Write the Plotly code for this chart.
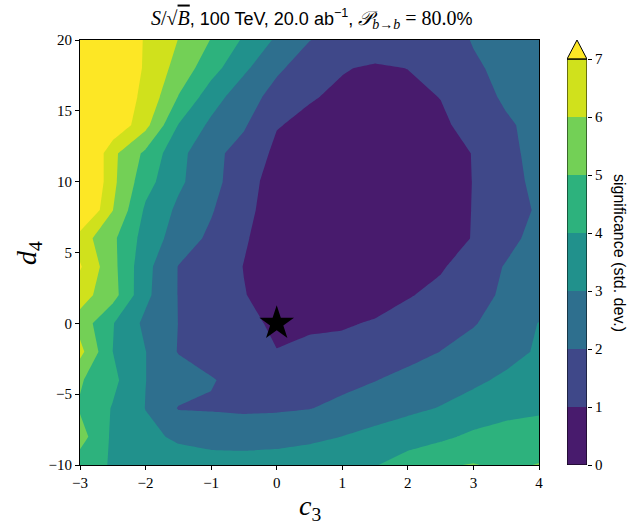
import plotly.graph_objects as go

# ---- data ----
c3_values = [-3.0, -2.5, -2.0, -1.5, -1.0, -0.5, 0.0, 0.5, 1.0, 1.5, 2.0, 2.5, 3.0, 3.5, 4.0]
d4_values = [-10, -8, -6, -4, -2, 0, 2, 4, 6, 8, 10, 12, 14, 16, 18, 20]

sig_m10 = [4.5, 3.9, 3.6, 3.45, 3.4, 3.4, 3.45, 3.55, 3.7, 3.95, 4.4, 4.9, 5.05, 4.8, 5.05]
sig_m8 = [5.4, 3.82, 3.23, 2.85, 2.65, 2.6, 2.65, 2.8, 3.01, 3.31, 3.6, 3.8, 4.2, 4.45, 4.3]
sig_m6 = [4.9, 3.93, 2.98, 1.95, 1.92, 1.85, 1.88, 1.97, 2.22, 2.5, 2.78, 3.05, 3.35, 3.65, 3.9]
sig_m4 = [5.1, 4.24, 3.01, 2.52, 2.05, 1.75, 1.6, 1.6, 1.75, 1.97, 2.26, 2.55, 2.84, 3.15, 3.4]
sig_m2 = [6.3, 4.0, 3.02, 1.95, 1.7, 1.4, 1.02, 1.3, 1.3, 1.5, 1.7, 2.01, 2.37, 2.72, 3.1]
sig_0 = [5.6, 4.05, 2.77, 1.99, 1.61, 1.23, 0.85, 0.8, 0.9, 1.08, 1.39, 1.66, 1.93, 2.45, 3.03]
sig_2 = [6.4, 5.4, 3.23, 1.97, 1.54, 1.03, 0.7, 0.55, 0.5, 0.6, 0.93, 1.25, 1.7, 2.15, 2.5]
sig_4 = [7.1, 5.29, 3.3, 1.97, 1.48, 0.98, 0.6, 0.4, 0.3, 0.3, 0.45, 0.9, 1.48, 2.07, 2.5]
sig_6 = [6.5, 5.2, 3.6, 2.54, 1.8, 1.08, 0.6, 0.35, 0.25, 0.2, 0.25, 0.55, 1.05, 1.7, 2.35]
sig_8 = [8.5, 6.02, 3.84, 2.81, 2.09, 1.17, 0.7, 0.4, 0.3, 0.25, 0.3, 0.6, 1.03, 1.58, 2.12]
sig_10 = [9.0, 6.23, 4.38, 3.18, 2.34, 1.38, 0.6, 0.45, 0.3, 0.25, 0.3, 0.6, 1.02, 1.66, 2.25]
sig_12 = [9.0, 6.23, 4.79, 3.3, 2.27, 1.63, 0.8, 0.55, 0.4, 0.35, 0.4, 0.65, 1.03, 1.76, 2.3]
sig_14 = [8.5, 7.9, 6.3, 3.97, 2.79, 2.11, 1.05, 0.8, 0.6, 0.5, 0.55, 0.85, 1.3, 1.87, 2.3]
sig_16 = [8.3, 7.6, 6.8, 4.97, 3.47, 2.4, 1.69, 1.07, 0.85, 0.75, 0.8, 1.02, 1.6, 2.15, 2.4]
sig_18 = [8.5, 7.8, 6.9, 5.63, 4.39, 3.19, 2.14, 1.58, 1.05, 0.9, 1.01, 1.45, 1.89, 2.2, 2.4]
sig_20 = [8.6, 7.85, 6.92, 5.98, 4.96, 3.87, 2.85, 2.02, 1.7, 1.5, 1.45, 1.6, 2.05, 2.3, 2.5]

significance = [sig_m10, sig_m8, sig_m6, sig_m4, sig_m2, sig_0, sig_2, sig_4,
                sig_6, sig_8, sig_10, sig_12, sig_14, sig_16, sig_18, sig_20]

levels = [0, 1, 2, 3, 4, 5, 6, 7]
band_colors = ["#481b6d", "#3f4889", "#2e6f8e", "#21918c", "#2db27d", "#73d056", "#d0e11c"]
over_color = "#fde725"

benchmark_c3 = [0.0]
benchmark_d4 = [0.0]

x_ticks = [-3, -2, -1, 0, 1, 2, 3, 4]
y_ticks = [-10, -5, 0, 5, 10, 15, 20]

# ---- geometry ----
W, H = 629, 524
ML, MR, MT, MB = 80, 40, 40, 59
pw = W - ML - MR
ph = H - MT - MB
main_right = (539 - ML) / pw
cb_x0 = (567 - ML) / pw
cb_x1 = (587 - ML) / pw
extend_frac = 0.047  # triangle height relative to the bar

SERIF = "Liberation Serif, DejaVu Serif, serif"
SANS = "Liberation Sans, Arial, sans-serif"

all_colors = band_colors + [over_color]
n = len(all_colors) - 1
colorscale = [[i / n, c] for i, c in enumerate(all_colors)]

fig = go.Figure()

fig.add_trace(go.Contour(
    x=c3_values, y=d4_values, z=significance,
    colorscale=colorscale, autocontour=False,
    contours=dict(start=levels[1], end=levels[-1], size=levels[1] - levels[0], coloring="fill"),
    line=dict(width=0, smoothing=0), showscale=False, hoverinfo="skip",
    xaxis="x", yaxis="y",
))

fig.add_trace(go.Scatter(
    x=benchmark_c3, y=benchmark_d4, mode="markers",
    marker=dict(symbol="star", size=26, color="black", line=dict(width=0)),
    showlegend=False, hoverinfo="skip", xaxis="x", yaxis="y",
))

# colorbar drawn as stacked bars
fig.add_trace(go.Bar(
    x=[0] * (len(levels) - 1),
    y=[levels[i + 1] - levels[i] for i in range(len(levels) - 1)],
    base=levels[:-1], width=1,
    marker=dict(color=band_colors, line=dict(width=0)),
    showlegend=False, hoverinfo="skip", xaxis="x2", yaxis="y2",
))
top = levels[-1]
tip = top * (1 + extend_frac)
fig.add_trace(go.Scatter(
    x=[-0.5, 0, 0.5, -0.5], y=[top, tip, top, top], mode="lines",
    fill="toself", fillcolor=over_color, line=dict(color="black", width=1),
    showlegend=False, hoverinfo="skip", xaxis="x2", yaxis="y2",
))

axis_common = dict(
    showline=True, mirror=True, linecolor="black", linewidth=1,
    ticks="outside", ticklen=4, tickwidth=1, tickcolor="black",
    showgrid=False, zeroline=False, automargin=False,
    tickfont=dict(family=SERIF, size=15, color="black"),
)

fig.update_layout(
    width=W, height=H,
    margin=dict(l=ML, r=MR, t=MT, b=MB, pad=0, autoexpand=False),
    paper_bgcolor="white", plot_bgcolor="white",
    barmode="overlay", showlegend=False,
    xaxis=dict(domain=[0, main_right], range=[c3_values[0], c3_values[-1]], tickvals=x_ticks,
               anchor="y", **axis_common),
    yaxis=dict(domain=[0, 1], range=[d4_values[0], d4_values[-1]], tickvals=y_ticks,
               anchor="x", **axis_common),
    xaxis2=dict(domain=[cb_x0, cb_x1], range=[-0.5, 0.5], visible=False, anchor="y2",
                fixedrange=True, automargin=False),
    yaxis2=dict(domain=[0, 1], range=[levels[0], tip], anchor="x2", side="right",
                tickvals=levels, ticks="outside", ticklen=4, tickwidth=1, tickcolor="black",
                showgrid=False, zeroline=False, showline=False, automargin=False,
                tickfont=dict(family=SERIF, size=15, color="black")),
    shapes=[dict(type="rect", xref="x2", yref="y2", x0=-0.5, x1=0.5, y0=levels[0], y1=top,
                 line=dict(color="black", width=1), fillcolor="rgba(0,0,0,0)")],
)

title_html = ("<span style='font-family:Liberation Serif;font-size:20px'><i>S</i>/√"
              "<span style='text-decoration:overline'><i>B</i></span></span>"
              ", 100 TeV, 20.0 ab<sup>−1</sup>, "
              "<span style='font-family:Liberation Serif;font-size:20px'><i>𝒫</i><sub><i>b</i>→<i>b</i></sub>"
              " = 80.0</span>%")

fig.add_annotation(text=title_html, xref="paper", yref="paper", x=(312 - ML) / pw,
                   y=1 + (MT - 19) / ph, xanchor="center", yanchor="middle",
                   showarrow=False, font=dict(family=SANS, size=18, color="black"))
fig.add_annotation(text="<i>c</i><sub>3</sub>", xref="paper", yref="paper", x=main_right / 2,
                   y=-(507 - (H - MB)) / ph, xanchor="center", yanchor="middle",
                   showarrow=False, font=dict(family=SERIF, size=28, color="black"))
fig.add_annotation(text="<i>d</i><sub>4</sub>", xref="paper", yref="paper", x=-(ML - 28) / pw,
                   y=(H - MB - 253) / ph, xanchor="center", yanchor="middle", textangle=-90,
                   showarrow=False, font=dict(family=SERIF, size=28, color="black"))
fig.add_annotation(text="significance (std. dev.)", xref="paper", yref="paper",
                   x=(620 - ML) / pw, y=(H - MB - 253) / ph, xanchor="center", yanchor="middle",
                   textangle=90, showarrow=False, font=dict(family=SANS, size=16, color="black"))

fig.write_html("out.html", config={"displayModeBar": False},
               post_script="document.body.style.margin='0';document.body.style.overflow='hidden';")
